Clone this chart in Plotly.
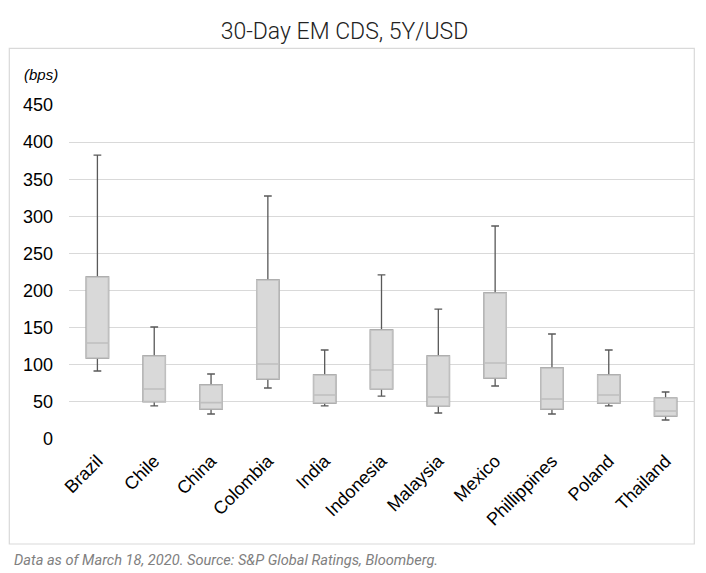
import plotly.graph_objects as go

categories = ["Brazil", "Chile", "China", "Colombia", "India", "Indonesia",
              "Malaysia", "Mexico", "Phillippines", "Poland", "Thailand"]
lower_whisker = [91.6, 44.5, 33.7, 68.7, 44.5, 57.9, 35.0, 71.4, 33.7, 44.5, 25.6]
q1_values     = [109.1, 50.3, 40.4, 80.8, 48.5, 67.4, 44.5, 82.2, 40.4, 48.5, 31.0]
median_values = [129.3, 67.4, 49.0, 101.0, 59.3, 93.0, 56.6, 102.4, 53.9, 59.3, 37.7]
q3_values     = [218.3, 111.8, 72.8, 214.2, 86.2, 146.9, 111.8, 196.7, 95.7, 86.2, 55.2]
upper_whisker = [382.6, 150.9, 87.6, 327.4, 119.9, 221.0, 175.1, 287.0, 141.5, 119.9, 63.3]
y_ticks = [0, 50, 100, 150, 200, 250, 300, 350, 400, 450]

fig = go.Figure()
# whiskers layer (dark lines)
fig.add_trace(go.Box(
    x=categories, q1=q1_values, median=median_values, q3=q3_values,
    lowerfence=lower_whisker, upperfence=upper_whisker,
    fillcolor="#d9d9d9", line=dict(color="#595959", width=1.3),
    width=0.39, whiskerwidth=0.35, boxpoints=False, showlegend=False,
))
# box layer (light outline) drawn on top
fig.add_trace(go.Box(
    x=categories, q1=q1_values, median=median_values, q3=q3_values,
    lowerfence=q1_values, upperfence=q3_values,
    fillcolor="#d9d9d9", line=dict(color="#bfbfbf", width=1.6),
    width=0.39, whiskerwidth=0, boxpoints=False, showlegend=False,
))

L, R, T, B = 69, 12, 105, 134
W, H = 706, 573
pw, ph = W - L - R, H - T - B

fig.update_layout(
    width=W, height=H,
    margin=dict(l=L, r=R, t=T, b=B, autoexpand=False),
    paper_bgcolor="white", plot_bgcolor="white",
    boxmode="overlay",
    title=dict(text="30-Day EM CDS, 5Y/USD", x=(344.5) / W, xanchor="center",
               y=1 - 31 / H, yanchor="middle",
               font=dict(family="Roboto, Liberation Sans, sans-serif", size=23, color="#222222",
                         weight=300)),
    xaxis=dict(type="category", tickangle=-45, showgrid=False, zeroline=False,
               range=[-0.5, len(categories) - 0.5],
               showline=False, ticks="", automargin=False, ticklabelstandoff=7,
               tickfont=dict(family="Liberation Sans, Arial, sans-serif", size=18, color="#000000")),
    yaxis=dict(range=[0, 450], tickvals=y_ticks, showgrid=True, gridcolor="#d9d9d9",
               gridwidth=1, zeroline=False, showline=False, ticks="", automargin=False,
               ticklabelstandoff=15,
               tickfont=dict(family="Liberation Sans, Arial, sans-serif", size=18, color="#000000")),
    font=dict(family="Liberation Sans, Arial, sans-serif"),
)

# outer frame
fig.add_shape(type="rect", xref="paper", yref="paper",
              x0=(9.3 - L) / pw, x1=(694.3 - L) / pw,
              y0=(H - B - 544) / ph, y1=(H - B - 48.3) / ph,
              line=dict(color="#d9d9d9", width=1.2), fillcolor="rgba(0,0,0,0)", layer="below")

fig.add_annotation(text="<i>(bps)</i>", xref="paper", yref="paper",
                   x=(21.5 - L) / pw, y=(H - B - 74) / ph, xanchor="left", yanchor="middle",
                   showarrow=False,
                   font=dict(family="Liberation Sans, Arial, sans-serif", size=15, color="#000000"))

fig.add_annotation(text="<i>Data as of March 18, 2020. Source: S&P Global Ratings, Bloomberg.</i>",
                   xref="paper", yref="paper",
                   x=(12 - L) / pw, y=(H - B - 560) / ph, xanchor="left", yanchor="middle",
                   showarrow=False,
                   font=dict(family="Roboto, Liberation Sans, sans-serif",
                             size=14.6, color="#808080"))

fig.write_html("out.html", config={"displayModeBar": False},
               post_script="document.body.style.margin='0';")
